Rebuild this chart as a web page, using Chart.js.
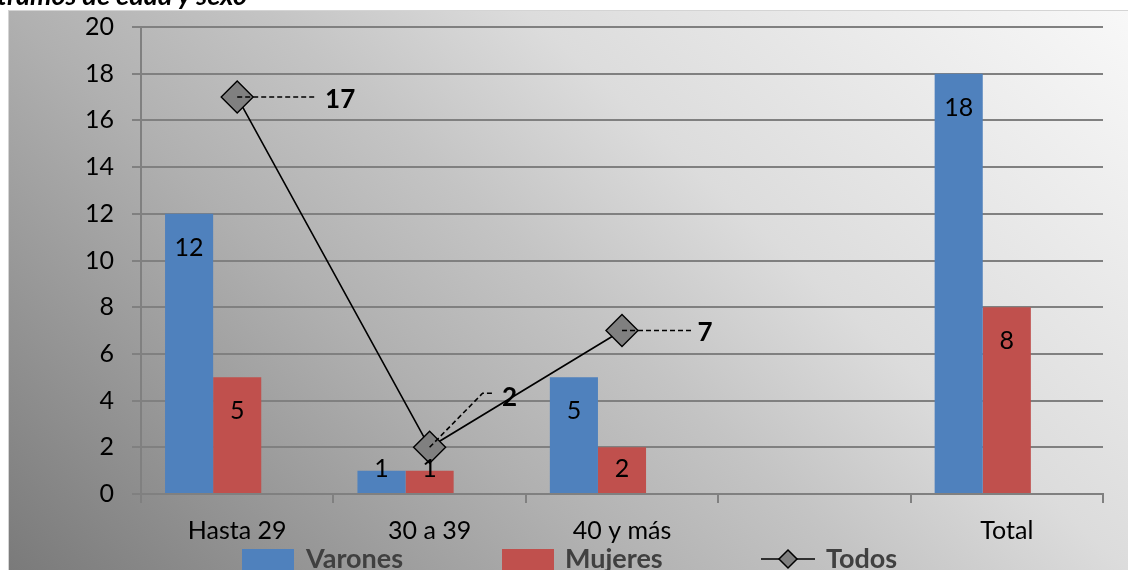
<!DOCTYPE html>
<html>
<head>
<meta charset="utf-8">
<script src="https://cdn.jsdelivr.net/npm/chart.js@4.4.0/dist/chart.umd.min.js"></script>
<style>
html, body { margin: 0; padding: 0; background: #fff; overflow: hidden; }
#wrap { position: relative; width: 1128px; height: 570px; }
#chart1 { position: absolute; left: 0; top: 0; }
#title { position: absolute; left: -3px; top: -22px; z-index: 2;
  font: italic bold 27px Lato, sans-serif; color: #000; white-space: nowrap; }
</style>
</head>
<body>
<div id="wrap">
  <div id="title">tramos de edad y sexo</div>
  <canvas id="chart1" width="1128" height="570"></canvas>
</div>
<script>
// data
const categories = ["Hasta 29", "30 a 39", "40 y más", "", "Total"];
const varones = [12, 1, 5, null, 18];
const mujeres = [5, 1, 2, null, 8];
const todos = [17, 2, 7, null, null];
const emptySlot = [null, null, null, null, null]; // third (empty) bar slot in the original

const FONT = "Lato, 'Open Sans', sans-serif";
const BLUE = "#4F81BD";
const RED = "#C0504D";
const GRID = "#808080";

// where the "Todos" labels sit, relative to the point: leader path + text pos
const todosLabelPos = [
  { path: [[0, 0], [78, 0]], text: [103, 3] },
  { path: [[0, 0], [53, -54], [63, -54]], text: [80, -50] },
  { path: [[0, 0], [69, 0]], text: [83, 2] }
];

const backgroundPlugin = {
  id: "bg",
  beforeDraw(chart) {
    const ctx = chart.ctx;
    ctx.save();
    const g = ctx.createLinearGradient(8, 570, 806, -289);
    g.addColorStop(0, "#7a7a7a");
    g.addColorStop(0.35, "#b0b0b0");
    g.addColorStop(0.5, "#c4c4c4");
    g.addColorStop(0.65, "#dcdcdc");
    g.addColorStop(1, "#f8f8f8");
    ctx.fillStyle = g;
    ctx.fillRect(8, 10, 1120, 560);
    ctx.strokeStyle = "#d4d4d4";
    ctx.lineWidth = 1;
    ctx.strokeRect(8.5, 10.5, 1122, 562);
    ctx.restore();
  }
};

const labelsPlugin = {
  id: "labels",
  afterDatasetsDraw(chart) {
    const ctx = chart.ctx;
    const base = chart.scales.y.getPixelForValue(0);
    ctx.save();
    ctx.fillStyle = "#000";
    ctx.textAlign = "center";
    ctx.textBaseline = "middle";
    ctx.font = "25px " + FONT;
    [0, 1].forEach(function(di) {
      chart.getDatasetMeta(di).data.forEach(function(bar, i) {
        const v = chart.data.datasets[di].data[i];
        if (v === null) return;
        const y = Math.min(bar.y + 34, base - 25);
        ctx.fillText(String(v), bar.x, y);
      });
    });
    // line labels with dashed leaders
    const meta = chart.getDatasetMeta(3);
    ctx.font = "bold 26px " + FONT;
    meta.data.forEach(function(pt, i) {
      const v = todos[i];
      if (v === null || !todosLabelPos[i]) return;
      const p = todosLabelPos[i];
      ctx.beginPath();
      ctx.setLineDash([5, 3]);
      ctx.strokeStyle = "#000";
      ctx.lineWidth = 1.6;
      p.path.forEach(function(q, k) {
        if (k === 0) ctx.moveTo(pt.x + q[0], pt.y + q[1]);
        else ctx.lineTo(pt.x + q[0], pt.y + q[1]);
      });
      ctx.stroke();
      ctx.setLineDash([]);
      ctx.fillText(String(v), pt.x + p.text[0], pt.y + p.text[1]);
    });
    ctx.restore();
  },
  afterDraw(chart) {
    // legend at the bottom
    const ctx = chart.ctx;
    ctx.save();
    ctx.font = "bold 27px " + FONT;
    ctx.textBaseline = "middle";
    ctx.textAlign = "left";
    const ly = 559;
    ctx.fillStyle = BLUE;
    ctx.fillRect(242, 549, 52, 22);
    ctx.fillStyle = RED;
    ctx.fillRect(502, 549, 52, 22);
    ctx.fillStyle = "#404040";
    ctx.fillText("Varones", 306, ly);
    ctx.fillText("Mujeres", 565, ly);
    ctx.fillText("Todos", 826, ly);
    ctx.strokeStyle = "#000";
    ctx.lineWidth = 1.5;
    ctx.beginPath();
    ctx.moveTo(761, ly);
    ctx.lineTo(815, ly);
    ctx.stroke();
    ctx.beginPath();
    ctx.moveTo(788, ly - 9);
    ctx.lineTo(797, ly);
    ctx.lineTo(788, ly + 9);
    ctx.lineTo(779, ly);
    ctx.closePath();
    ctx.fillStyle = "#808080";
    ctx.fill();
    ctx.stroke();
    ctx.restore();
  }
};

new Chart(document.getElementById("chart1"), {
  data: {
    labels: categories,
    datasets: [
      { type: "bar", label: "Varones", data: varones, backgroundColor: BLUE, order: 2 },
      { type: "bar", label: "Mujeres", data: mujeres, backgroundColor: RED, order: 2 },
      { type: "bar", label: "", data: emptySlot, backgroundColor: "rgba(0,0,0,0)", order: 2 },
      { type: "line", label: "Todos", data: todos, order: 0,
        borderColor: "#000", borderWidth: 1.6, spanGaps: false,
        pointStyle: "rectRot", pointRadius: 16, pointHoverRadius: 16,
        pointBackgroundColor: "#808080", pointBorderColor: "#000", pointBorderWidth: 1.4 }
    ]
  },
  options: {
    responsive: false,
    animation: false,
    maintainAspectRatio: false,
    layout: { padding: { left: 0, right: 25, top: 27, bottom: 0 } },
    datasets: { bar: { categoryPercentage: 0.75, barPercentage: 1.0 } },
    plugins: { legend: { display: false }, tooltip: { enabled: false } },
    scales: {
      x: {
        offset: true,
        grid: { drawOnChartArea: false, offset: true, tickLength: 9, color: GRID, lineWidth: 2 },
        border: { color: GRID, width: 2 },
        ticks: { font: { family: FONT, size: 25 }, color: "#000", padding: 13, maxRotation: 0 },
        afterFit: function(s) { s.height = 76; }
      },
      y: {
        min: 0, max: 20,
        grid: { color: GRID, lineWidth: 2, tickLength: 9 },
        border: { color: GRID, width: 2 },
        ticks: { stepSize: 2, font: { family: FONT, size: 25 }, color: "#000", padding: 18 },
        afterFit: function(s) { s.width = 141; s.paddingTop = 0; s.paddingBottom = 0; }
      }
    }
  },
  plugins: [backgroundPlugin, labelsPlugin]
});
</script>
</body>
</html>
